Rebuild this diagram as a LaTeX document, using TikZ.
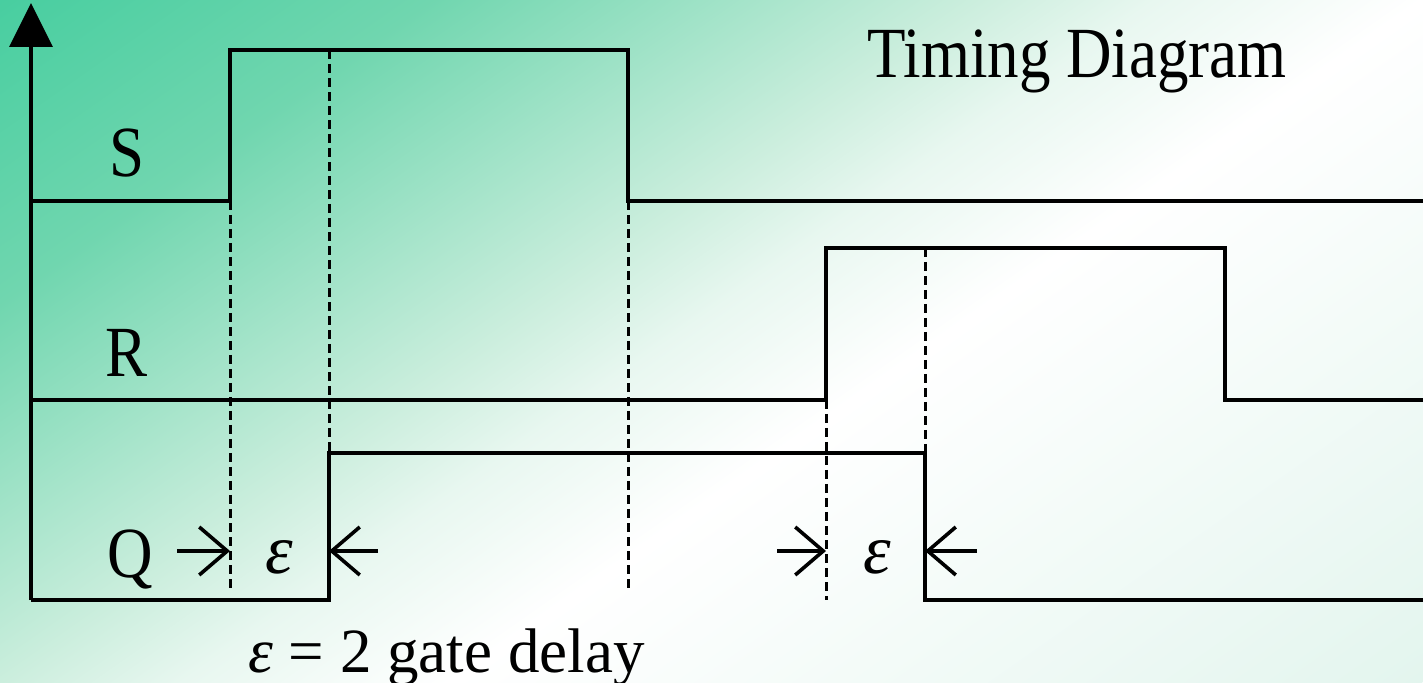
\documentclass[tikz,border=0pt]{standalone}
\usepackage{fontspec}
\setmainfont[FakeStretch=0.875]{Liberation Serif}
\newfontfamily\wideserif{Liberation Serif}
\usetikzlibrary{arrows.meta}
\pgfdeclarehorizontalshading{bgshade}{100bp}{rgb(0bp)=(0.282,0.808,0.627); rgb(25bp)=(0.282,0.808,0.627); rgb(33.98bp)=(0.439,0.839,0.686); rgb(45.33bp)=(0.796,0.933,0.867); rgb(49.11bp)=(0.91,0.969,0.941); rgb(54.67bp)=(1,1,1); rgb(75bp)=(0.89,0.961,0.933); rgb(100bp)=(0.89,0.961,0.933)}
\tikzset{
  sig/.style={line width=1.9pt, line join=miter},
  guide/.style={line width=1.5pt, dash pattern=on 4.5pt off 2.5pt},
  marker/.style={line width=1.8pt, -{Straight Barb[length=14pt, width=24pt, line width=1.8pt]}},
  lab/.style={font=\fontsize{36}{40}\selectfont, anchor=base, inner sep=0pt},
  eps/.style={font=\wideserif\fontsize{35}{38}\selectfont\itshape, anchor=base, inner sep=0pt},
}
\begin{document}
\begin{tikzpicture}[x=0.5pt,y=-0.5pt]
\useasboundingbox (0,0) rectangle (1423,683);
\begin{scope}
  \clip (0,0) rectangle (1423,683);
  \shade[shading=bgshade, transform canvas={rotate=-55}] (0,-1600) rectangle (1375,1600);
\end{scope}

% coordinates
\coordinate (top) at (31,3);
\coordinate (s0) at (31,201);  \coordinate (s1) at (230,201); \coordinate (s2) at (230,50);
\coordinate (s3) at (628,50);  \coordinate (s4) at (628,201); \coordinate (s5) at (1423,201);
\coordinate (r0) at (31,400);  \coordinate (r1) at (826,400); \coordinate (r2) at (826,248);
\coordinate (r3) at (1225,248);\coordinate (r4) at (1225,400);\coordinate (r5) at (1423,400);
\coordinate (q0) at (31,600);  \coordinate (q1) at (329,600); \coordinate (q2) at (329,453);
\coordinate (q3) at (925,453); \coordinate (q4) at (925,600); \coordinate (q5) at (1423,600);
\coordinate (g1) at (230,593); \coordinate (g2) at (329,50);  \coordinate (g3) at (628,593);
\coordinate (g4) at (826,600); \coordinate (g5) at (925,248);
\coordinate (a1) at (177,551); \coordinate (a1t) at (230,551);
\coordinate (a2) at (378,551); \coordinate (a2t) at (329,551);
\coordinate (a3) at (777,551); \coordinate (a3t) at (826,551);
\coordinate (a4) at (977,551); \coordinate (a4t) at (925,551);

% guides
\draw[guide] (s1) -- (g1);
\draw[guide] (g2) -- (q2);
\draw[guide] (s4) -- (g3);
\draw[guide] (r1) -- (g4);
\draw[guide] (g5) -- (q3);

% axis and signals
\draw[sig, -{Triangle[length=22pt,width=21.5pt]}] (q0) -- (top);
\draw[sig] (s0) -- (s1) -- (s2) -- (s3) -- (s4) -- (s5);
\draw[sig] (r0) -- (r1) -- (r2) -- (r3) -- (r4) -- (r5);
\draw[sig] (q0) -- (q1) -- (q2) -- (q3) -- (q4) -- (q5);

% delay markers
\draw[marker] (a1) -- (a1t);
\draw[marker] (a2) -- (a2t);
\draw[marker] (a3) -- (a3t);
\draw[marker] (a4) -- (a4t);

% labels
\node[lab] (S) at (127,177) {S};
\node[lab] (R) at (127,377) {R};
\node[lab] (Q) at (130,577) {Q};
\node[eps] (e1) at (279,573) {ε};
\node[eps] (e2) at (877,573) {ε};
\node[lab, anchor=base west] (title) at (867,78) {Timing Diagram};
\node[font=\wideserif\fontsize{31.5}{35}\selectfont, anchor=base west, inner sep=0pt] (note) at (248,672) {\textit{ε} = 2 gate delay};
\end{tikzpicture}
\end{document}
